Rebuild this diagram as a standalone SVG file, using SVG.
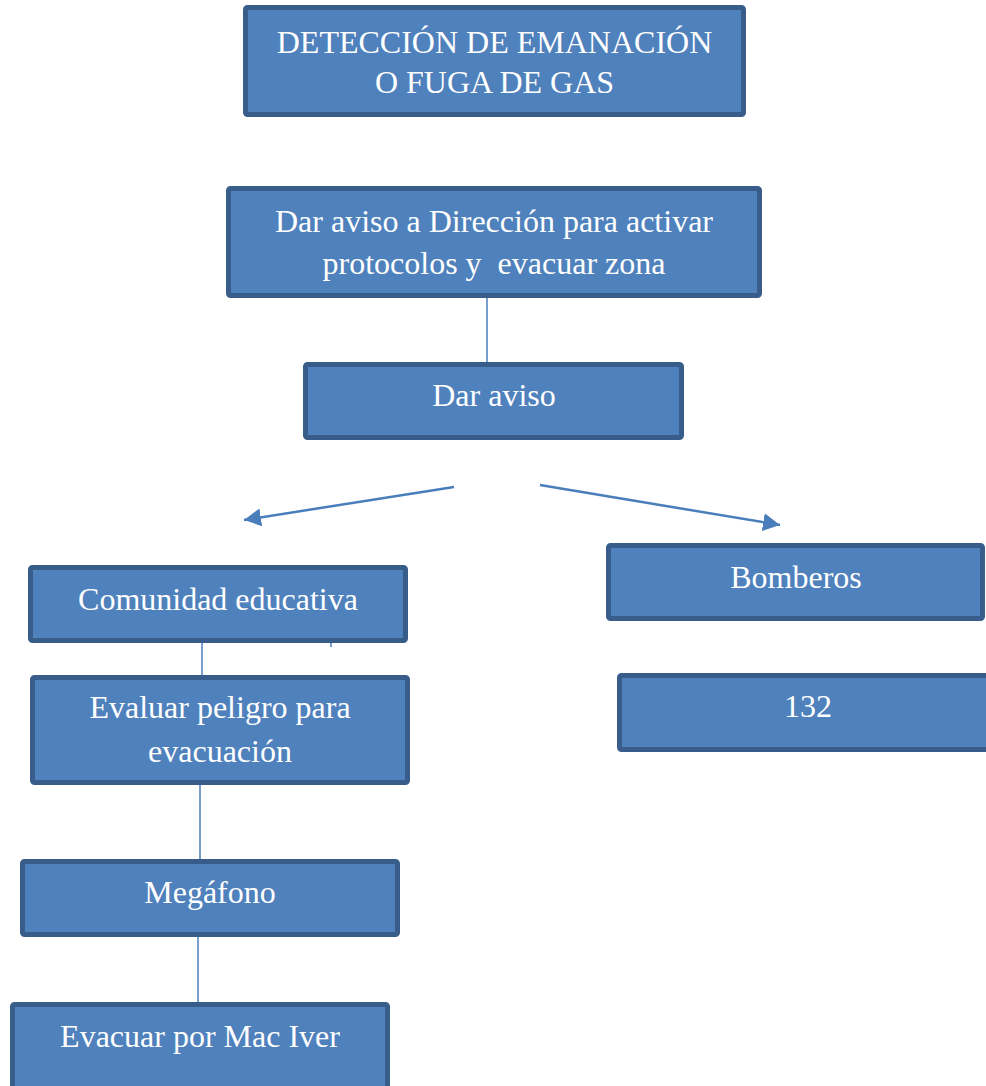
<svg xmlns="http://www.w3.org/2000/svg" width="986" height="1086" viewBox="0 0 986 1086">
  <style>
    .box { fill: #4F81BD; stroke: #385D8A; stroke-width: 5; }
    .lbl { font-family: "Liberation Serif", "Times New Roman", serif; font-size: 32px; fill: #FFFFFF; text-anchor: middle; white-space: pre; }
    .conn { stroke: #4A7EBB; stroke-width: 1.5; fill: none; }
    .arr { stroke: #4A7EBB; stroke-width: 2.5; fill: none; marker-end: url(#ah); }
  </style>
  <defs>
    <marker id="ah" markerUnits="userSpaceOnUse" markerWidth="17" markerHeight="18" refX="17" refY="9" orient="auto" viewBox="0 0 17 18">
      <path d="M0,0 L17,9 L0,18 z" fill="#4A7EBB"/>
    </marker>
  </defs>
  <rect width="986" height="1086" fill="#FFFFFF"/>

  <g id="connectors">
    <line class="conn" x1="487" y1="297" x2="487" y2="362"/>
    <line class="arr" x1="454" y1="487" x2="244" y2="520"/>
    <line class="arr" x1="540" y1="485" x2="780" y2="525"/>
    <line class="conn" x1="202" y1="642" x2="202" y2="676"/>
    <line class="conn" x1="331" y1="642" x2="331" y2="647"/>
    <line class="conn" x1="200" y1="785" x2="200" y2="859"/>
    <line class="conn" x1="198" y1="936" x2="198" y2="1002"/>
  </g>

  <g id="node-deteccion">
    <rect class="box" x="245.5" y="7.5" width="498" height="107" rx="2"/>
    <text class="lbl" x="494.5" y="53">DETECCIÓN DE EMANACIÓN</text>
    <text class="lbl" x="494.5" y="93">O FUGA DE GAS</text>
  </g>

  <g id="node-direccion">
    <rect class="box" x="228.5" y="188.5" width="531" height="107" rx="2"/>
    <text class="lbl" x="494" y="232">Dar aviso a Dirección para activar</text>
    <text class="lbl" x="494" y="274">protocolos y  evacuar zona</text>
  </g>

  <g id="node-dar-aviso">
    <rect class="box" x="305.5" y="364.5" width="376" height="73" rx="2"/>
    <text class="lbl" x="494" y="406">Dar aviso</text>
  </g>

  <g id="node-comunidad">
    <rect class="box" x="30.5" y="567.5" width="375" height="73" rx="2"/>
    <text class="lbl" x="218" y="610">Comunidad educativa</text>
  </g>

  <g id="node-evaluar">
    <rect class="box" x="32.5" y="677.5" width="375" height="105" rx="2"/>
    <text class="lbl" x="220" y="718">Evaluar peligro para</text>
    <text class="lbl" x="220" y="762">evacuación</text>
  </g>

  <g id="node-megafono">
    <rect class="box" x="22.5" y="861.5" width="375" height="73" rx="2"/>
    <text class="lbl" x="210" y="903">Megáfono</text>
  </g>

  <g id="node-evacuar">
    <rect class="box" x="12.5" y="1004.5" width="375" height="90" rx="2"/>
    <text class="lbl" x="200" y="1047">Evacuar por Mac Iver</text>
  </g>

  <g id="node-bomberos">
    <rect class="box" x="608.5" y="545.5" width="374" height="73" rx="2"/>
    <text class="lbl" x="796" y="588">Bomberos</text>
  </g>

  <g id="node-132">
    <rect class="box" x="619.5" y="675.5" width="380" height="74" rx="2"/>
    <text class="lbl" x="808" y="717">132</text>
  </g>
</svg>
